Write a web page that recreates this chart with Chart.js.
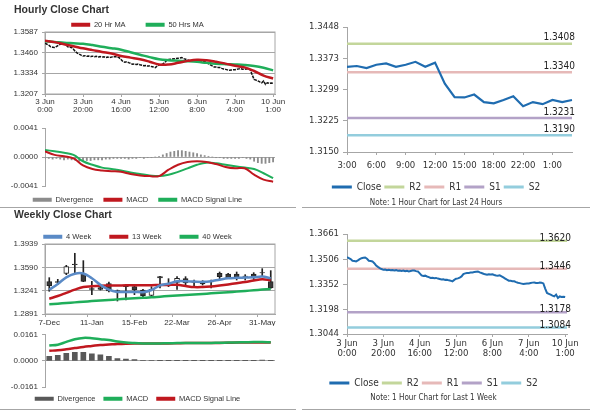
<!DOCTYPE html>
<html>
<head>
<meta charset="utf-8">
<script src="https://cdn.jsdelivr.net/npm/chart.js@4.4.1/dist/chart.umd.min.js"></script>
<style>
  body { margin: 0; background: #fff; }
  #page { position: relative; width: 600px; height: 413px; overflow: hidden; font-family: 'Liberation Sans', Arial, sans-serif; }
  .box { position: absolute; }
  .title { position: absolute; font-weight: bold; font-size: 10.5px; line-height: 12px; color: #333; }
  .rule { position: absolute; height: 1px; background: #a6a6a6; }
</style>
</head>
<body>
<div id="page">
  <div class="box" style="left:0;top:1px;width:292px;height:118px"><canvas id="hourlyPrice"></canvas></div>
  <div class="box" style="left:0;top:118px;width:292px;height:88px"><canvas id="hourlyMacd"></canvas></div>
  <div class="box" style="left:0;top:215px;width:292px;height:111px"><canvas id="weeklyPrice"></canvas></div>
  <div class="box" style="left:0;top:326px;width:292px;height:77px"><canvas id="weeklyMacd"></canvas></div>
  <div class="box" style="left:300px;top:17px;width:300px;height:194px"><canvas id="dayLevels"></canvas></div>
  <div class="box" style="left:300px;top:222px;width:300px;height:184px"><canvas id="weekLevels"></canvas></div>
  <div class="title" style="left:14px;top:3px">Hourly Close Chart</div>
  <div class="title" style="left:14px;top:208px">Weekly Close Chart</div>
  <div class="rule" style="left:0;top:207px;width:296px"></div>
  <div class="rule" style="left:302px;top:207px;width:288px"></div>
  <div class="rule" style="left:0;top:409px;width:296px"></div>
  <div class="rule" style="left:302px;top:409px;width:288px"></div>
</div>
<script>
// ---- hourly data, 3 Jun 0:00 .. 10 Jun 1:00 (one point per hour)
const hourTickPos = [0, 20, 40, 60, 80, 100, 120];
const hourTickLabels = [['3 Jun', '0:00'], ['3 Jun', '20:00'], ['4 Jun', '16:00'], ['5 Jun', '12:00'],
                        ['6 Jun', '8:00'], ['7 Jun', '4:00'], ['10 Jun', '1:00']];
const hourlyClose = [
  1.3518, 1.3512, 1.3506, 1.3496, 1.3494, 1.3492, 1.3498, 1.3506, 1.3512, 1.3514,
  1.3516, 1.3508, 1.3496, 1.3494, 1.3492, 1.3481, 1.3467, 1.3458, 1.3451, 1.3445,
  1.3440, 1.3442, 1.3438, 1.3440, 1.3437, 1.3439, 1.3436, 1.3438, 1.3434, 1.3436,
  1.3433, 1.3435, 1.3431, 1.3434, 1.3430, 1.3433, 1.3436, 1.3436, 1.3432, 1.3430,
  1.3418, 1.3406, 1.3402, 1.3404, 1.3399, 1.3395, 1.3390, 1.3391, 1.3388, 1.3390,
  1.3386, 1.3383, 1.3380, 1.3381, 1.3378, 1.3379, 1.3375, 1.3373, 1.3369, 1.3378,
  1.3385, 1.3387, 1.3392, 1.3399, 1.3414, 1.3418, 1.3420, 1.3421, 1.3423, 1.3424,
  1.3426, 1.3428, 1.3430, 1.3424, 1.3420, 1.3416, 1.3412, 1.3410, 1.3413, 1.3411,
  1.3412, 1.3408, 1.3405, 1.3403, 1.3406, 1.3400, 1.3393, 1.3386, 1.3379, 1.3373,
  1.3372, 1.3370, 1.3369, 1.3364, 1.3360, 1.3358, 1.3355, 1.3352, 1.3354, 1.3355,
  1.3356, 1.3359, 1.3361, 1.3362, 1.3359, 1.3358, 1.3361, 1.3360, 1.3356, 1.3324,
  1.3297, 1.3292, 1.3287, 1.3281, 1.3276, 1.3287, 1.3266, 1.3276, 1.3272, 1.3274,
  1.3272
];
// moving averages and MACD read every 5 hours, divergence every 2 hours
const MA_STEP = 5;
const DIV_STEP = 2;
const ma20 = [1.3534, 1.3525, 1.3512, 1.3500, 1.3487, 1.3476, 1.3465, 1.3455, 1.3440, 1.3430,
              1.3420, 1.3405, 1.3388, 1.3388, 1.3398, 1.3410, 1.3417, 1.3414, 1.3405, 1.3393,
              1.3380, 1.3370, 1.3348, 1.3320, 1.3302];
const ma50 = [1.3530, 1.3526, 1.3521, 1.3518, 1.3515, 1.3507, 1.3497, 1.3488, 1.3478, 1.3463,
              1.3448, 1.3433, 1.3420, 1.3414, 1.3411, 1.3408, 1.3404, 1.3398, 1.3393, 1.3390,
              1.3388, 1.3385, 1.3379, 1.3368, 1.3352];
const hourMacd = [0.0008, 0.0003, 0.0001, -0.0002, -0.0012, -0.0017, -0.0019, -0.0020, -0.0021, -0.0024,
                  -0.0026, -0.0027, -0.0027, -0.0018, -0.0011, -0.0007, -0.0006, -0.0007, -0.0010, -0.0014,
                  -0.0016, -0.0016, -0.0025, -0.0032, -0.0035];
const hourSignal = [0.0010, 0.0008, 0.0006, 0.0003, -0.0006, -0.0011, -0.0015, -0.0017, -0.0019, -0.0022,
                    -0.0024, -0.0026, -0.0027, -0.0025, -0.0021, -0.0016, -0.0011, -0.0008, -0.0009, -0.0011,
                    -0.0013, -0.0015, -0.0017, -0.0023, -0.0030];
const hourDiv = [
  -0.0002, -0.0002, -0.0003, -0.0002, -0.0003, -0.0004, -0.0003, -0.0004, -0.0005, -0.0006,
  -0.0006, -0.0005, -0.0005, -0.0004, -0.0004, -0.0004, -0.0003, -0.0003, -0.0002, -0.0002,
  -0.0002, -0.0002, -0.0003, -0.0002, -0.0002, -0.0001, -0.0002, -0.0001, -0.0001, 0.0000,
  0.0001, 0.0003, 0.0005, 0.0007, 0.0008, 0.0009, 0.0009, 0.0008, 0.0007, 0.0006,
  0.0005, 0.0003, 0.0002, 0.0001, 0.0000, -0.0001, -0.0001, -0.0002, -0.0002, -0.0002,
  -0.0002, -0.0002, -0.0001, -0.0002, -0.0003, -0.0006, -0.0008, -0.0009, -0.0009, -0.0008,
  -0.0007
];
const HOUR_MAX = 121;
const hourPriceTicks = [1.3207, 1.3334, 1.3460, 1.3587];
const hourMacdTicks = [-0.0041, 0, 0.0041];
const weekLevelTicks = [1.3044, 1.3198, 1.3352, 1.3506, 1.3661];
const weekLevels = [1.3620, 1.3446, 1.3178, 1.3084];   // R2, R1, S1, S2

// ---- last 24 hours
const dayLabels = ['3:00', '4:00', '5:00', '6:00', '7:00', '8:00', '9:00', '10:00', '11:00', '12:00',
                   '13:00', '14:00', '15:00', '16:00', '17:00', '18:00', '19:00', '21:00', '22:00', '23:00',
                   '0:00', '1:00', '2:00', '3:00'];
const dayClose = [1.3353, 1.3355, 1.3350, 1.3358, 1.3361, 1.3353, 1.3358, 1.3365, 1.3353, 1.3363,
                  1.3313, 1.3281, 1.3280, 1.3287, 1.3269, 1.3266, 1.3274, 1.3283, 1.3259, 1.3269,
                  1.3264, 1.3274, 1.3269, 1.3274];
const dayTicks = [1.3150, 1.3225, 1.3299, 1.3373, 1.3448];
const dayLevels = [1.3408, 1.3340, 1.3231, 1.3190];   // R2, R1, S1, S2

// ---- weekly
const weekLabels = ['7-Dec', '14-Dec', '21-Dec', '28-Dec', '4-Jan', '11-Jan', '18-Jan', '25-Jan', '1-Feb',
                    '8-Feb', '15-Feb', '22-Feb', '1-Mar', '8-Mar', '15-Mar', '22-Mar', '29-Mar', '5-Apr',
                    '12-Apr', '19-Apr', '26-Apr', '3-May', '10-May', '17-May', '24-May', '31-May', '7-Jun'];
const weekOpen = [1.3377, 1.3375, 1.3500, 1.3640, 1.3485, 1.3270, 1.3285, 1.3345, 1.3240, 1.3320,
                  1.3300, 1.3250, 1.3170, 1.3450, 1.3340, 1.3365, 1.3420, 1.3370, 1.3375, 1.3375,
                  1.3500, 1.3490, 1.3490, 1.3460, 1.3490, 1.3510, 1.3375];
const weekClose = [1.3314, 1.3365, 1.3600, 1.3630, 1.3380, 1.3260, 1.3260, 1.3235, 1.3230, 1.3300,
                   1.3250, 1.3165, 1.3260, 1.3430, 1.3335, 1.3425, 1.3355, 1.3365, 1.3340, 1.3370,
                   1.3450, 1.3430, 1.3440, 1.3455, 1.3450, 1.3505, 1.3280];
const weekHigh = [1.3435, 1.3410, 1.3620, 1.3800, 1.3690, 1.3380, 1.3300, 1.3370, 1.3250, 1.3330,
                  1.3315, 1.3260, 1.3300, 1.3455, 1.3420, 1.3450, 1.3450, 1.3400, 1.3390, 1.3400,
                  1.3520, 1.3500, 1.3520, 1.3480, 1.3510, 1.3570, 1.3540];
const weekLow = [1.3231, 1.3330, 1.3480, 1.3500, 1.3375, 1.3180, 1.3250, 1.3220, 1.3085, 1.3100,
                 1.3180, 1.3140, 1.3140, 1.3280, 1.3300, 1.3260, 1.3330, 1.3305, 1.3325, 1.3280,
                 1.3400, 1.3420, 1.3400, 1.3400, 1.3400, 1.3450, 1.3275];
const ma4w = [1.3255, 1.3340, 1.3440, 1.3495, 1.3498, 1.3425, 1.3328, 1.3255, 1.3222, 1.3220,
              1.3222, 1.3218, 1.3250, 1.3320, 1.3345, 1.3380, 1.3382, 1.3376, 1.3372, 1.3382,
              1.3405, 1.3425, 1.3432, 1.3436, 1.3440, 1.3452, 1.3428];
const ma13w = [1.3120, 1.3160, 1.3207, 1.3255, 1.3294, 1.3306, 1.3314, 1.3317, 1.3318, 1.3320,
               1.3321, 1.3322, 1.3323, 1.3325, 1.3327, 1.3328, 1.3310, 1.3294, 1.3295, 1.3304,
               1.3318, 1.3334, 1.3352, 1.3370, 1.3392, 1.3411, 1.3395];
const ma40w = [1.3037, 1.3046, 1.3056, 1.3065, 1.3074, 1.3084, 1.3093, 1.3101, 1.3110, 1.3118,
               1.3126, 1.3133, 1.3140, 1.3150, 1.3160, 1.3168, 1.3176, 1.3184, 1.3192, 1.3200,
               1.3208, 1.3216, 1.3226, 1.3236, 1.3246, 1.3256, 1.3265];
const weekMacd = [0.0095, 0.0100, 0.0117, 0.0134, 0.0142, 0.0140, 0.0134, 0.0129, 0.0119, 0.0113,
                  0.0110, 0.0108, 0.0107, 0.0108, 0.0109, 0.0110, 0.0111, 0.0111, 0.0110, 0.0111,
                  0.0112, 0.0113, 0.0114, 0.0115, 0.0116, 0.0116, 0.0115];
const weekSignal = [0.0062, 0.0066, 0.0072, 0.0079, 0.0086, 0.0092, 0.0098, 0.0101, 0.0104, 0.0106,
                    0.0107, 0.0107, 0.0107, 0.0108, 0.0108, 0.0109, 0.0110, 0.0110, 0.0110, 0.0111,
                    0.0111, 0.0112, 0.0113, 0.0113, 0.0114, 0.0114, 0.0114];
const weekDiv = [0.0028, 0.0034, 0.0047, 0.0053, 0.0053, 0.0043, 0.0038, 0.0028, 0.0015, 0.0011,
                 0.0008, 0.0004, 0.0003, 0.0002, 0.0002, 0.0002, 0.0002, 0.0002, 0.0002, 0.0002,
                 0.0002, 0.0002, 0.0002, 0.0002, 0.0002, 0.0005, 0.0002];
const weekPriceTicks = [1.2891, 1.3241, 1.3590, 1.3939];
const weekMacdTicks = [-0.0161, 0, 0.0161];

// ---- styling
const GRID = '#a6a6a6';
const TEXT = '#333';
const RED = '#c0181f';
const GREEN = '#1fae5a';
const BLUE = '#5a8ac6';
const CLOSE_BLUE = '#1f6cb0';
const levelColors = ['#c3d69b', '#e6b9b8', '#b3a2c7', '#93cddd'];
const levelNames = ['R2', 'R1', 'S1', 'S2'];
const SANS = "'Liberation Sans', Arial, sans-serif";
const NARROW = "'Liberation Sans Narrow', 'DejaVu Sans Condensed', 'Liberation Sans', sans-serif";

Chart.defaults.font.family = SANS;
Chart.defaults.font.size = 8;
Chart.defaults.color = TEXT;
Chart.defaults.animation = false;
Chart.defaults.responsive = true;
Chart.defaults.maintainAspectRatio = false;
Chart.defaults.plugins.tooltip.enabled = false;
Chart.defaults.elements.point.radius = 0;

const toPoints = (values, step) => values.map((y, i) => ({ x: i * step, y }));
const fixedTicks = values => scale => { scale.ticks = values.map(value => ({ value })); };

// legend: solid boxes, skip datasets marked legend:false, keep dataset order
function legendItems(chart) {
  return Chart.defaults.plugins.legend.labels.generateLabels(chart)
    .filter(item => chart.data.datasets[item.datasetIndex].legend !== false)
    .sort((a, b) => a.datasetIndex - b.datasetIndex)
    .map(item => Object.assign(item, {
      lineWidth: 0,
      fillStyle: chart.data.datasets[item.datasetIndex].borderColor
    }));
}

function legend(position, padding, maxHeight) {
  return {
    position, maxHeight,
    labels: { boxWidth: 19, boxHeight: 4, padding, font: { size: 7.5 }, color: TEXT, generateLabels: legendItems }
  };
}

const framePlugin = {
  id: 'frame',
  beforeDatasetsDraw(chart) {
    const { ctx, chartArea: a } = chart;
    ctx.save();
    ctx.strokeStyle = GRID;
    ctx.lineWidth = 1;
    ctx.strokeRect(a.left, a.top, a.width, a.height);
    ctx.restore();
  }
};

const levelLabelPlugin = {
  id: 'levelLabels',
  afterDatasetsDraw(chart, args, opts) {
    const { ctx, chartArea, scales } = chart;
    ctx.save();
    ctx.font = '10px ' + NARROW;
    ctx.fillStyle = '#222';
    ctx.textAlign = 'right';
    ctx.textBaseline = 'alphabetic';
    opts.values.forEach(v => {
      ctx.fillText(v.toFixed(4), chartArea.right + opts.dx, scales.y.getPixelForValue(v) + opts.dy);
    });
    ctx.restore();
  }
};

function leftY(ticks, grid) {
  return {
    min: ticks[0], max: ticks[ticks.length - 1],
    afterBuildTicks: fixedTicks(ticks),
    afterFit: s => { s.width = 45; },
    ticks: { callback: v => v.toFixed(4), padding: 4 },
    grid: Object.assign({ tickLength: 3, tickColor: GRID }, grid),
    border: { color: GRID }
  };
}

function rightY(ticks) {
  return {
    min: ticks[0], max: ticks[ticks.length - 1],
    afterBuildTicks: fixedTicks(ticks),
    afterFit: s => { s.width = 47; },
    ticks: { callback: v => v.toFixed(4), padding: 4, font: { family: NARROW, size: 9.5 } },
    grid: { drawOnChartArea: false, tickLength: 4, color: GRID },
    border: { color: GRID }
  };
}

function levelSets(levels, dataFor) {
  return levels.map((level, i) => ({
    type: 'line', label: levelNames[i], data: dataFor(level),
    borderColor: levelColors[i], borderWidth: 2.5, order: 1
  }));
}

// ---- hourly close with moving averages
new Chart(document.getElementById('hourlyPrice'), {
  type: 'line',
  data: {
    datasets: [
      { label: '20 Hr MA', data: toPoints(ma20, MA_STEP), borderColor: RED, borderWidth: 2.5, tension: 0.4 },
      { label: '50 Hrs MA', data: toPoints(ma50, MA_STEP), borderColor: GREEN, borderWidth: 2.5, tension: 0.4 },
      { label: 'Close', data: toPoints(hourlyClose, 1), borderColor: '#111', borderWidth: 1.5,
        borderDash: [3, 1], legend: false }
    ]
  },
  plugins: [framePlugin],
  options: {
    layout: { padding: { right: 17 } },
    scales: {
      x: {
        type: 'linear', min: 0, max: HOUR_MAX,
        afterBuildTicks: fixedTicks(hourTickPos),
        afterFit: s => { s.height = 25; },
        ticks: { callback: (v, i) => hourTickLabels[i], padding: 1, maxRotation: 0, font: { size: 8, lineHeight: 1 } },
        grid: { drawOnChartArea: false, tickLength: 3, color: GRID },
        border: { color: GRID }
      },
      y: leftY(hourPriceTicks, { color: GRID })
    },
    plugins: { legend: legend('top', 20, 31) }
  }
});

// ---- hourly MACD
new Chart(document.getElementById('hourlyMacd'), {
  type: 'bar',
  data: {
    datasets: [
      { label: 'Divergence', data: toPoints(hourDiv, DIV_STEP), backgroundColor: '#8c8c8c', borderColor: '#8c8c8c',
        barThickness: 1.2, order: 2 },
      { type: 'line', label: 'MACD', data: toPoints(hourMacd, MA_STEP), borderColor: RED, borderWidth: 2, tension: 0.4, order: 0 },
      { type: 'line', label: 'MACD Signal Line', data: toPoints(hourSignal, MA_STEP), borderColor: GREEN, borderWidth: 2, tension: 0.4, order: 1 }
    ]
  },
  options: {
    layout: { padding: { top: 10, right: 17 } },
    scales: {
      x: { type: 'linear', min: 0, max: HOUR_MAX, offset: false, display: false },
      y: leftY(hourMacdTicks, { color: c => (c.tick && c.tick.value === 0 ? GRID : 'transparent') })
    },
    plugins: { legend: legend('bottom', 10, 20) }
  }
});

// ---- weekly candles with moving averages
new Chart(document.getElementById('weeklyPrice'), {
  type: 'bar',
  data: {
    labels: weekLabels,
    datasets: [
      { type: 'line', label: '4 Week', data: ma4w, borderColor: BLUE, borderWidth: 2.5, tension: 0.4, order: 0 },
      { type: 'line', label: '13 Week', data: ma13w, borderColor: RED, borderWidth: 2.5, tension: 0.4, order: 0 },
      { type: 'line', label: '40 Week', data: ma40w, borderColor: GREEN, borderWidth: 2.5, tension: 0.4, order: 0 },
      { label: 'Body', data: weekOpen.map((o, i) => [o, weekClose[i]]), legend: false, grouped: false,
        backgroundColor: weekOpen.map((o, i) => (weekClose[i] >= o ? '#fff' : '#3a3a3a')),
        borderColor: '#222', borderWidth: 1, borderSkipped: false, barThickness: 5, order: 1 },
      { label: 'Range', data: weekLow.map((l, i) => [l, weekHigh[i]]), legend: false, grouped: false,
        backgroundColor: '#222', borderColor: '#222', barThickness: 1, order: 2 }
    ]
  },
  plugins: [framePlugin],
  options: {
    layout: { padding: { right: 17 } },
    scales: {
      x: {
        afterFit: s => { s.height = 12; },
        ticks: { autoSkip: false, maxRotation: 0, padding: 1, callback: (v, i) => (i % 5 === 0 ? weekLabels[i] : '') },
        grid: { drawOnChartArea: false, tickLength: 3, tickColor: c => (c.index % 5 === 0 ? GRID : 'transparent') },
        border: { color: GRID }
      },
      y: leftY(weekPriceTicks, { color: GRID })
    },
    plugins: { legend: legend('top', 18, 29) }
  }
});

// ---- weekly MACD
new Chart(document.getElementById('weeklyMacd'), {
  type: 'bar',
  data: {
    labels: weekLabels,
    datasets: [
      { label: 'Divergence', data: weekDiv, backgroundColor: '#595959', borderColor: '#595959', barThickness: 5, order: 2 },
      { type: 'line', label: 'MACD', data: weekMacd, borderColor: GREEN, borderWidth: 2.5, tension: 0.4, order: 0 },
      { type: 'line', label: 'MACD Signal Line', data: weekSignal, borderColor: RED, borderWidth: 2.5, tension: 0.4, order: 1 }
    ]
  },
  options: {
    layout: { padding: { top: 6, right: 17 } },
    scales: {
      x: { display: false },
      y: leftY(weekMacdTicks, { color: c => (c.tick && c.tick.value === 0 ? GRID : 'transparent') })
    },
    plugins: { legend: legend('bottom', 8, 16) }
  }
});

// ---- last 24 hours with pivot levels
new Chart(document.getElementById('dayLevels'), {
  type: 'line',
  data: {
    labels: dayLabels,
    datasets: [{ label: 'Close', data: dayClose, borderColor: CLOSE_BLUE, borderWidth: 2.2, order: 0 }]
      .concat(levelSets(dayLevels, level => dayLabels.map(() => level)))
  },
  plugins: [levelLabelPlugin],
  options: {
    layout: { padding: { top: 10, right: 28 } },
    scales: {
      x: {
        afterFit: s => { s.height = 27; },
        ticks: { autoSkip: false, maxRotation: 0, padding: 6, font: { family: NARROW, size: 9.5, lineHeight: 1 },
                 callback: (v, i) => (i % 3 === 0 ? dayLabels[i] : '') },
        grid: { drawOnChartArea: false, tickLength: 3, tickColor: c => (c.index % 3 === 0 ? GRID : 'transparent') },
        border: { color: GRID }
      },
      y: rightY(dayTicks)
    },
    plugins: {
      legend: {
        position: 'bottom', maxHeight: 14,
        labels: { boxWidth: 20, boxHeight: 3, padding: 3, color: TEXT, font: { family: NARROW, size: 10 }, generateLabels: legendItems }
      },
      title: {
        display: true, position: 'bottom', text: 'Note: 1 Hour Chart for Last 24 Hours', color: TEXT,
        font: { family: NARROW, size: 8, weight: 'normal', lineHeight: 1 }, padding: { top: 6, bottom: 4 }
      },
      levelLabels: { values: dayLevels, dx: 3, dy: -3.5 }
    }
  }
});

// ---- last week with pivot levels
new Chart(document.getElementById('weekLevels'), {
  type: 'line',
  data: {
    datasets: [{ label: 'Close', data: toPoints(hourlyClose, 1), borderColor: CLOSE_BLUE, borderWidth: 2, order: 0 }]
      .concat(levelSets(weekLevels, level => [0, HOUR_MAX].map(x => ({ x, y: level }))))
  },
  plugins: [levelLabelPlugin],
  options: {
    layout: { padding: { top: 12, right: 33 } },
    scales: {
      x: {
        type: 'linear', min: 0, max: HOUR_MAX,
        afterBuildTicks: fixedTicks(hourTickPos),
        afterFit: s => { s.height = 41; },
        ticks: { callback: (v, i) => hourTickLabels[i], padding: 2, maxRotation: 0,
                 font: { family: NARROW, size: 9.5, lineHeight: 1.05 } },
        grid: { drawOnChartArea: false, tickLength: 3, color: GRID },
        border: { color: GRID }
      },
      y: rightY(weekLevelTicks)
    },
    plugins: {
      legend: {
        position: 'bottom', maxHeight: 13,
        labels: { boxWidth: 20, boxHeight: 3, padding: 3, color: TEXT, font: { family: NARROW, size: 10 }, generateLabels: legendItems }
      },
      title: {
        display: true, position: 'bottom', text: 'Note: 1 Hour Chart for Last 1 Week', color: TEXT,
        font: { family: NARROW, size: 8, weight: 'normal', lineHeight: 1 }, padding: { top: 6, bottom: 4 }
      },
      levelLabels: { values: weekLevels, dx: 4, dy: 0 }
    }
  }
});
</script>
</body>
</html>
